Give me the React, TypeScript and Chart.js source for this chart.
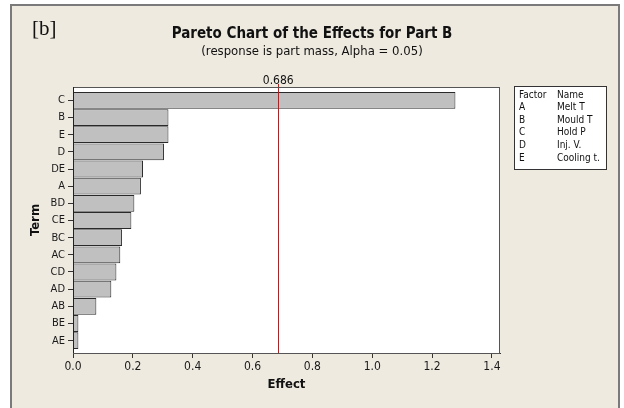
import React, { useEffect, useRef } from 'react';
import { Chart, registerables } from 'chart.js';

Chart.register(...registerables);

const terms = ['C', 'B', 'E', 'D', 'DE', 'A', 'BD', 'CE', 'BC', 'AC', 'CD', 'AD', 'AB', 'BE', 'AE'];
const effects = [1.278, 0.319, 0.319, 0.304, 0.234, 0.227, 0.205, 0.195, 0.164, 0.158, 0.145, 0.128, 0.078, 0.018, 0.018];
const xTickValues = [0, 0.2, 0.4, 0.6, 0.8, 1.0, 1.2, 1.4];
const criticalValue = 0.686;
const factorLetters = ['A', 'B', 'C', 'D', 'E'];
const factorNames = ['Melt T', 'Mould T', 'Hold P', 'Inj. V.', 'Cooling t.'];
const panelLabel = '[b]';
const titleText = 'Pareto Chart of the Effects for Part B';
const subtitleText = '(response is part mass, Alpha = 0.05)';
const xTitleText = 'Effect';
const yTitleText = 'Term';

const FONT = "'DejaVu Sans Condensed', 'DejaVu Sans', sans-serif";
const BEIGE = '#EEEAE0';

const decorPlugin = {
  id: 'decor',
  beforeDraw(chart: any) {
    const { ctx, chartArea } = chart;
    ctx.save();
    ctx.fillStyle = '#ffffff';
    ctx.fillRect(0, 0, chart.width, chart.height);
    ctx.fillStyle = BEIGE;
    ctx.fillRect(11, 5, 608, 420);
    ctx.strokeStyle = '#7a7a7a';
    ctx.lineWidth = 2;
    ctx.strokeRect(11, 5, 608, 420);
    ctx.fillStyle = '#ffffff';
    ctx.fillRect(chartArea.left, chartArea.top, chartArea.right - chartArea.left, chartArea.bottom - chartArea.top);
    ctx.restore();
  },
  afterDatasetsDraw(chart: any) {
    const { ctx, chartArea, scales } = chart;
    const x = Math.round(scales.x.getPixelForValue(criticalValue)) + 0.5;
    ctx.save();
    ctx.strokeStyle = '#ff0000';
    ctx.lineWidth = 1;
    ctx.beginPath();
    ctx.moveTo(x, chartArea.top - 3);
    ctx.lineTo(x, chartArea.bottom);
    ctx.stroke();
    ctx.restore();
  },
  afterDraw(chart: any) {
    const { ctx, chartArea, scales } = chart;
    ctx.save();
    // plot frame
    ctx.strokeStyle = '#555555';
    ctx.lineWidth = 1;
    ctx.strokeRect(chartArea.left + 0.5, chartArea.top + 0.5, chartArea.right - chartArea.left - 1, chartArea.bottom - chartArea.top);
    ctx.strokeStyle = '#222222';
    ctx.beginPath();
    ctx.moveTo(chartArea.left + 0.5, chartArea.top);
    ctx.lineTo(chartArea.left + 0.5, chartArea.bottom);
    ctx.stroke();

    ctx.fillStyle = '#111111';
    // panel label
    ctx.font = "21px 'Liberation Serif', 'DejaVu Serif', serif";
    ctx.textAlign = 'left';
    ctx.textBaseline = 'alphabetic';
    ctx.fillText(panelLabel, 32, 35);

    // titles
    ctx.textAlign = 'center';
    ctx.font = `bold 15px ${FONT}`;
    ctx.fillText(titleText, 312, 38);
    ctx.font = `13px ${FONT}`;
    ctx.fillText(subtitleText, 312, 55);

    // critical value label
    const xc = scales.x.getPixelForValue(criticalValue);
    ctx.font = `12px ${FONT}`;
    ctx.fillText(String(criticalValue), xc, 84);

    // axis titles
    ctx.font = `bold 13px ${FONT}`;
    ctx.textBaseline = 'middle';
    ctx.fillText(xTitleText, (chartArea.left + chartArea.right) / 2, 385);
    ctx.save();
    ctx.translate(36, (chartArea.top + chartArea.bottom) / 2);
    ctx.rotate(-Math.PI / 2);
    ctx.fillText(yTitleText, 0, 0);
    ctx.restore();

    // factor legend
    const bx = 514, by = 86, bw = 92, bh = 83;
    ctx.fillStyle = '#ffffff';
    ctx.fillRect(bx, by, bw, bh);
    ctx.strokeStyle = '#333333';
    ctx.lineWidth = 1;
    ctx.strokeRect(bx + 0.5, by + 0.5, bw, bh);
    ctx.fillStyle = '#111111';
    ctx.font = `10px ${FONT}`;
    ctx.textAlign = 'left';
    ctx.textBaseline = 'middle';
    const rowH = 12.6;
    ctx.fillText('Factor', 519, 95);
    ctx.fillText('Name', 557, 95);
    factorLetters.forEach((f, i) => {
      ctx.fillText(f, 519, 95 + rowH * (i + 1));
      ctx.fillText(factorNames[i], 557, 95 + rowH * (i + 1));
    });
    ctx.restore();
  },
};

export default function App() {
  const ref = useRef<HTMLCanvasElement>(null);
  useEffect(() => {
    document.body.style.margin = '0';
    const canvas = ref.current!;
    const chart = new Chart(canvas, {
      type: 'bar',
      data: {
        datasets: [
          {
            data: terms.map((_, i) => ({ x: effects[i], y: i })),
            backgroundColor: '#C0C0C0',
            borderColor: '#2a2a2a',
            borderWidth: 1,
            barPercentage: 0.98,
            categoryPercentage: 1,
          },
        ],
      },
      options: {
        indexAxis: 'y',
        animation: false,
        responsive: false,
        maintainAspectRatio: false,
        events: [],
        layout: { padding: { top: 87, right: 124, bottom: 25, left: 0 } },
        plugins: { legend: { display: false }, tooltip: { enabled: false }, title: { display: false } },
        scales: {
          x: {
            type: 'linear',
            min: 0,
            max: 1.427,
            offset: false,
            afterBuildTicks: (scale: any) => {
              scale.ticks = xTickValues.map((v) => ({ value: v }));
            },
            afterFit: (scale: any) => {
              scale.height = 30;
            },
            ticks: {
              callback: (v: any) => Number(v).toFixed(1),
              font: { size: 12, family: FONT },
              color: '#1a1a1a',
              padding: 2,
              maxRotation: 0,
              autoSkip: false,
            },
            grid: { offset: false, drawOnChartArea: false, drawTicks: true, tickLength: 5, color: '#333333' },
            border: { display: true, color: '#333333' },
          },
          y: {
            type: 'linear',
            reverse: true,
            offset: false,
            min: -0.78,
            max: 14.72,
            afterBuildTicks: (scale: any) => {
              scale.ticks = terms.map((_, i) => ({ value: i }));
            },
            afterFit: (scale: any) => {
              scale.width = 73;
            },
            ticks: {
              callback: (v: any) => terms[v],
              font: { size: 11, family: FONT },
              color: '#1a1a1a',
              padding: 3,
              autoSkip: false,
            },
            grid: { offset: false, drawOnChartArea: false, drawTicks: true, tickLength: 5, color: '#333333' },
            border: { display: true, color: '#222222' },
          },
        },
      },
      plugins: [decorPlugin],
    });
    return () => chart.destroy();
  }, []);
  return (
    <div style={{ position: 'absolute', left: 0, top: 0, width: 624, height: 408 }}>
      <canvas ref={ref} width={624} height={408} style={{ display: 'block', width: 624, height: 408 }} />
    </div>
  );
}
